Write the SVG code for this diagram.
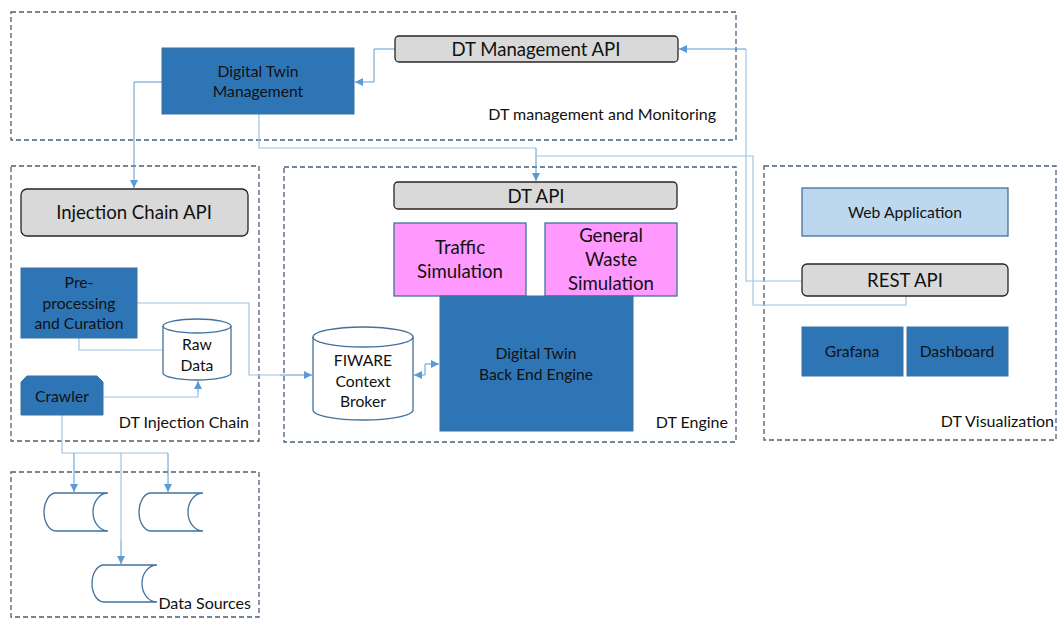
<svg xmlns="http://www.w3.org/2000/svg" width="1058" height="619" viewBox="0 0 1058 619">
<defs>
<style>
.cont{fill:none;stroke:#4A5F78;stroke-width:1.3;stroke-dasharray:5,3}
.blue{fill:#2E75B6;stroke:#41719C;stroke-width:1}
.gray{fill:#D9D9D9;stroke:#262626;stroke-width:1.3}
.pink{fill:#FF99FF;stroke:#41719C;stroke-width:1.3}
.light{fill:#BDD7EE;stroke:#41719C;stroke-width:1.3}
.cyl{fill:#fff;stroke:#41719C;stroke-width:1.3}
.ds{fill:#fff;stroke:#41719C;stroke-width:1.3}
.con{fill:none;stroke:#5B9BD5;stroke-width:1}
.conl{fill:none;stroke:#9DC3E6;stroke-width:1.2}
text{font-family:Lato,"Liberation Sans",sans-serif;fill:#111;text-anchor:middle}
.lbl{text-anchor:end;font-size:16px}
.t16{font-size:15.7px}
.t19{font-size:18.6px}
</style>
<marker id="arr" viewBox="0 0 10 10" refX="10" refY="5" markerWidth="8" markerHeight="8" markerUnits="userSpaceOnUse" orient="auto-start-reverse">
<path d="M0,0 L10,5 L0,10 Z" fill="#5B9BD5"/>
</marker>
</defs>
<rect width="1058" height="619" fill="#fff"/>

<g id="containers">
<rect id="c-mgmt" class="cont" x="11" y="12" width="725" height="128"/>
<text class="lbl" x="716" y="120">DT management and Monitoring</text>
<rect id="c-inj" class="cont" x="11" y="166" width="248" height="275"/>
<text class="lbl" x="249" y="428">DT Injection Chain</text>
<rect id="c-eng" class="cont" x="284" y="167" width="452" height="275"/>
<text class="lbl" x="728" y="428">DT Engine</text>
<rect id="c-vis" class="cont" x="764" y="166" width="292" height="274"/>
<text class="lbl" x="1054" y="427">DT Visualization</text>
<rect id="c-ds" class="cont" x="11" y="472" width="248" height="145"/>
<text class="lbl" x="251" y="609">Data Sources</text>
</g>

<g id="connectors">
<path class="con" d="M395,49 H374 V82 H355" marker-end="url(#arr)"/>
<path class="con" d="M162,82 H134 V188" marker-end="url(#arr)"/>
<path class="conl" d="M259,114 V148 H536"/>
<path class="con" d="M536,148 V181" marker-end="url(#arr)"/>
<path class="conl" d="M906,296 V305 H753 V156 H536"/>
<path class="conl" d="M803,281 H746 V49"/>
<path class="con" d="M746,49 H679" marker-end="url(#arr)"/>
<path class="conl" d="M79,338 V350 H163"/>
<path class="conl" d="M137,303 H249 V375 H280"/>
<path class="con" d="M280,375 H312" marker-end="url(#arr)"/>
<path class="conl" d="M103,397 H198 V392"/>
<path class="con" d="M198,392 V381" marker-end="url(#arr)"/>
<path class="con" d="M414,375 H425 V364 H439" marker-start="url(#arr)" marker-end="url(#arr)"/>
<path class="conl" d="M62,415 V453 H168"/>
<path class="con" d="M168,453 V492" marker-end="url(#arr)"/>
<path class="con" d="M74,453 V492" marker-end="url(#arr)"/>
<path class="conl" d="M121,453 V540"/>
<path class="con" d="M121,540 V564" marker-end="url(#arr)"/>
</g>

<g id="n-dtm">
<rect class="blue" x="162" y="48" width="192" height="66"/>
<text class="t16" x="258" y="77">Digital Twin</text>
<text class="t16" x="258" y="97">Management</text>
</g>
<g id="n-dtmapi">
<rect class="gray" x="395" y="36" width="283" height="26" rx="4"/>
<text class="t19" x="536" y="56">DT Management API</text>
</g>
<g id="n-injapi">
<rect class="gray" x="21" y="189" width="227" height="47" rx="6"/>
<text class="t19" x="134" y="219">Injection Chain API</text>
</g>
<g id="n-pre">
<rect class="blue" x="21" y="268" width="116" height="70"/>
<text class="t16" x="79" y="288">Pre-</text>
<text class="t16" x="79" y="309">processing</text>
<text class="t16" x="79" y="329">and Curation</text>
</g>
<g id="n-raw">
<path class="cyl" d="M163,326 V373 A34,7 0 0 0 231,373 V326"/>
<ellipse class="cyl" cx="197" cy="326" rx="34" ry="7"/>
<text class="t16" x="197" y="350">Raw</text>
<text class="t16" x="197" y="371">Data</text>
</g>
<g id="n-crawler">
<path class="blue" d="M21,415 V382 L27,376 H97 L103,382 V415 Z"/>
<text class="t16" x="62" y="402">Crawler</text>
</g>
<g id="n-dtapi">
<rect class="gray" x="394" y="182" width="283" height="27" rx="4"/>
<text class="t19" x="536" y="203">DT API</text>
</g>
<g id="n-traffic">
<rect class="pink" x="394" y="223" width="132" height="73"/>
<text class="t19" x="460" y="254">Traffic</text>
<text class="t19" x="460" y="278">Simulation</text>
</g>
<g id="n-waste">
<rect class="pink" x="545" y="223" width="132" height="73"/>
<text class="t19" x="611" y="242">General</text>
<text class="t19" x="611" y="266">Waste</text>
<text class="t19" x="611" y="290">Simulation</text>
</g>
<g id="n-engine">
<rect class="blue" x="440" y="296" width="193" height="135"/>
<text class="t16" x="536" y="359">Digital Twin</text>
<text class="t16" x="536" y="380">Back End Engine</text>
</g>
<g id="n-fiware">
<path class="cyl" d="M313,337 V410 A50,10 0 0 0 413,410 V337"/>
<ellipse class="cyl" cx="363" cy="337" rx="50" ry="10"/>
<text class="t16" x="363" y="366">FIWARE</text>
<text class="t16" x="363" y="387">Context</text>
<text class="t16" x="363" y="407">Broker</text>
</g>
<g id="n-web">
<rect class="light" x="802" y="188" width="206" height="48"/>
<text class="t16" x="905" y="218">Web Application</text>
</g>
<g id="n-rest">
<rect class="gray" x="802" y="264" width="206" height="32" rx="5"/>
<text class="t19" x="905" y="287">REST API</text>
</g>
<g id="n-grafana">
<rect class="blue" x="802" y="327" width="101" height="49"/>
<text class="t16" x="852" y="357">Grafana</text>
</g>
<g id="n-dash">
<rect class="blue" x="907" y="327" width="101" height="49"/>
<text class="t16" x="957" y="357">Dashboard</text>
</g>
<g id="n-ds1">
<path class="ds" d="M56,493 H108 A15,19 0 0 0 108,531 H56 A12,19 0 0 1 56,493 Z"/>
</g>
<g id="n-ds2">
<path class="ds" d="M151,493 H203 A15,19 0 0 0 203,531 H151 A12,19 0 0 1 151,493 Z"/>
</g>
<g id="n-ds3">
<path class="ds" d="M104,565 H157 A15,18.5 0 0 0 157,602 H104 A12,18.5 0 0 1 104,565 Z"/>
</g>
</svg>
